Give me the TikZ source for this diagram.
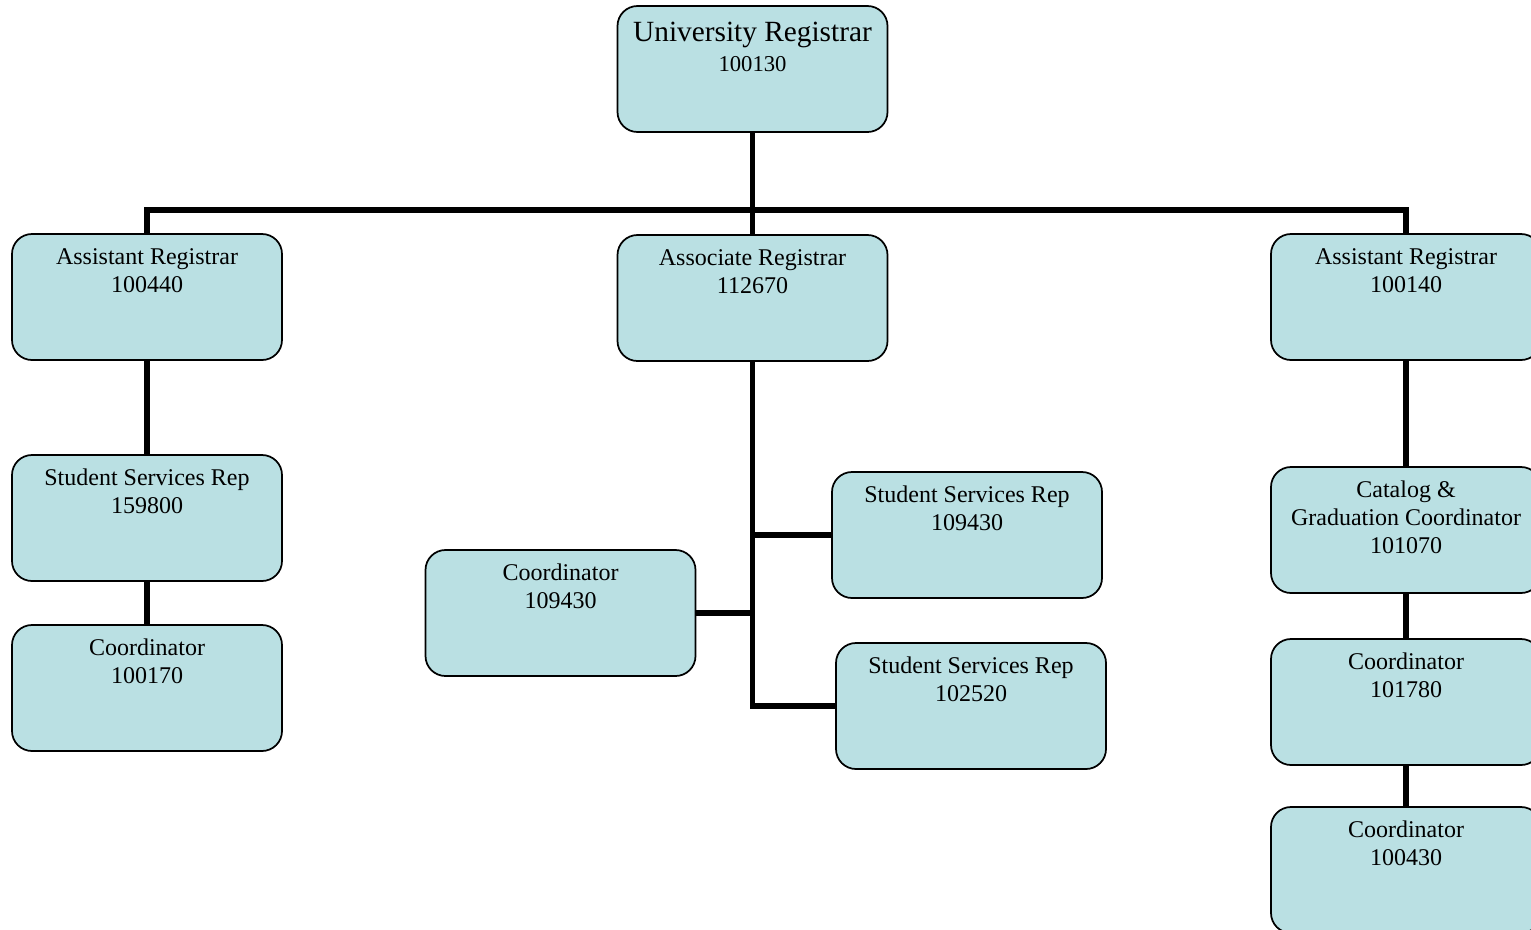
\documentclass[tikz,border=0pt]{standalone}
\usepackage{fontspec}
\setmainfont{Liberation Serif}
\definecolor{boxfill}{RGB}{186,224,227}
\tikzset{
  orgbox/.style={draw=black, line width=1.3pt, fill=boxfill, rounded corners=15pt,
    inner sep=0pt, outer sep=0pt, anchor=north, font=\fontsize{18}{21}\selectfont},
  link/.style={line width=4.2pt},
}
\newcommand{\boxtext}[1]{\parbox[t][94.5pt][t]{202.5pt}{\centering\vspace*{8pt}\strut #1}}
\begin{document}
\begin{tikzpicture}[x=0.75pt,y=-0.75pt]
\useasboundingbox (0,0) rectangle (1531,929);
% boxes
\node[orgbox] (ur) at (752.5,6) {\parbox[t][94.5pt][t]{202.5pt}{\centering\vspace*{9.5pt}{\fontsize{22}{24}\selectfont\strut University Registrar\par}\fontsize{17}{22.5}\selectfont 100130}};
\node[orgbox] (al) at (147,234) {\boxtext{Assistant Registrar\\100440}};
\node[orgbox] (ac) at (752.5,235) {\boxtext{Associate Registrar\\112670}};
\node[orgbox] (ar) at (1406,234) {\boxtext{Assistant Registrar\\100140}};
\node[orgbox] (s1) at (147,455) {\boxtext{Student Services Rep\\159800}};
\node[orgbox] (c1) at (147,625) {\boxtext{Coordinator\\100170}};
\node[orgbox] (c2) at (560.5,550) {\boxtext{Coordinator\\109430}};
\node[orgbox] (s2) at (967,472) {\boxtext{Student Services Rep\\109430}};
\node[orgbox] (s3) at (971,643) {\boxtext{Student Services Rep\\102520}};
\node[orgbox] (cat) at (1406,467) {\boxtext{Catalog \&\\Graduation Coordinator\\101070}};
\node[orgbox] (c3) at (1406,639) {\boxtext{Coordinator\\101780}};
\node[orgbox] (c4) at (1406,807) {\boxtext{Coordinator\\100430}};
% connectors
\coordinate (hub) at (752.5,210);
\draw[link] (ur.south) -- (hub);
\draw[link] (hub) -| (al.north);
\draw[link] (hub) -- (ac.north);
\draw[link] (hub) -| (ar.north);
\draw[link] (al.south) -- (s1.north);
\draw[link] (s1.south) -- (c1.north);
\draw[link] (ac.south) |- (s3.west);
\draw[link] (s2.west) -- (s2.west -| ac.south);
\draw[link] (c2.east) -- (c2.east -| ac.south);
\draw[link] (ar.south) -- (cat.north);
\draw[link] (cat.south) -- (c3.north);
\draw[link] (c3.south) -- (c4.north);
\end{tikzpicture}
\end{document}
